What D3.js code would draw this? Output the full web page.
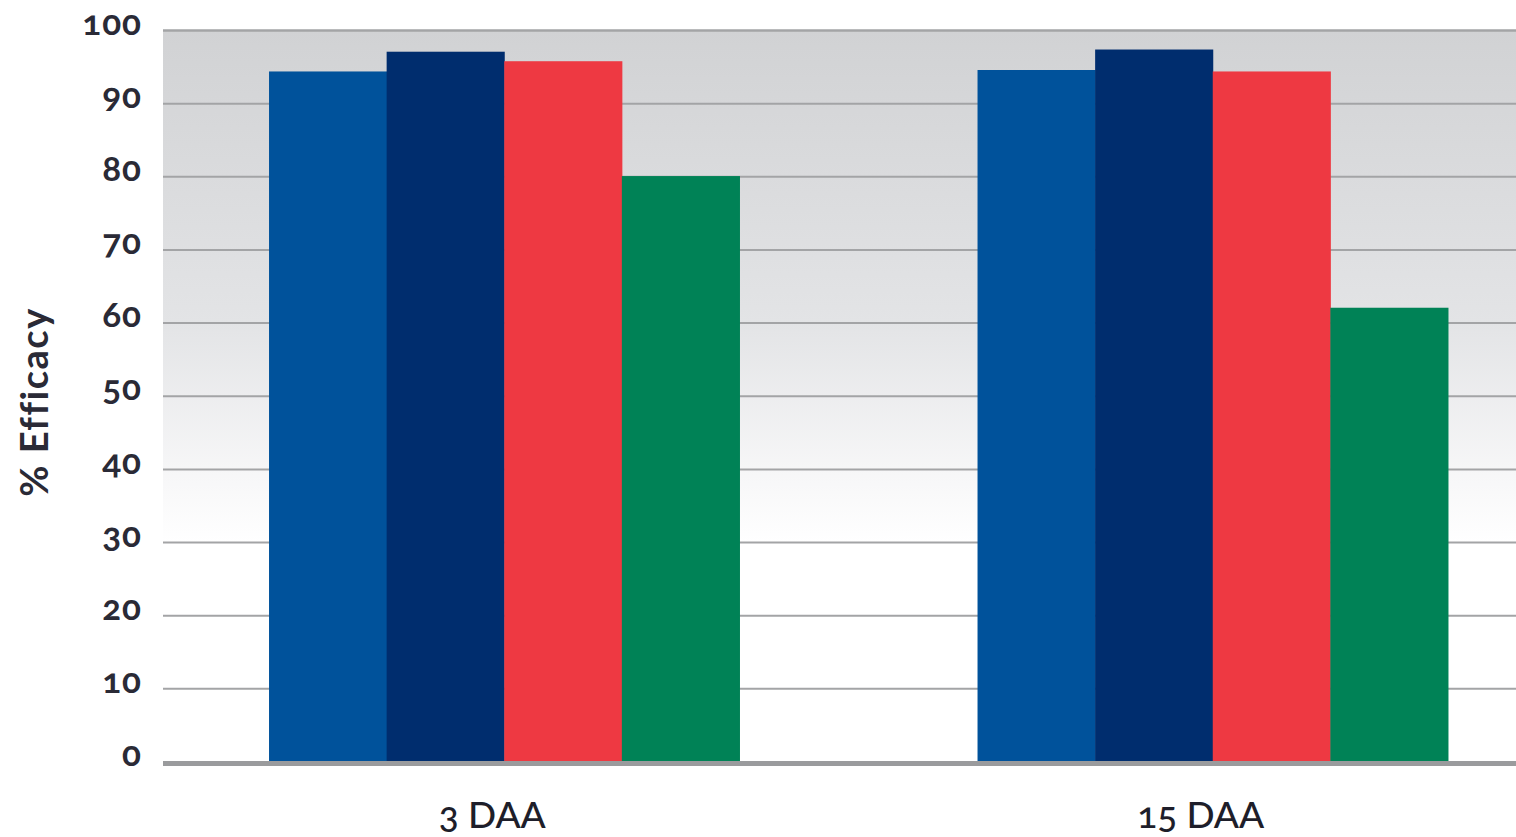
<!DOCTYPE html>
<html><head><meta charset="utf-8">
<script src="https://cdn.jsdelivr.net/npm/d3@7"></script>
<style>
html,body{margin:0;padding:0;background:#fff;}
text{font-family:Lato,"Noto Sans",sans-serif;font-variant-numeric:oldstyle-nums;font-feature-settings:"onum" 1;}
</style></head><body>
<svg id="c" width="1516" height="837"></svg>
<script>
const categories = ["3 DAA", "15 DAA"];
const seriesNames = ["S1", "S2", "S3", "S4"];
const series1 = [94.4, 94.6];
const series2 = [97.1, 97.4];
const series3 = [95.8, 94.4];
const series4 = [80.1, 62.1];
const yTicks = [0,10,20,30,40,50,60,70,80,90,100];
const colors = ["#00529b", "#002d6e", "#ee3942", "#008256"];

const svg = d3.select("#c");
const plotL = 163, plotR = 1516, yTop = 30.5, yBot = 762;
const y = d3.scaleLinear().domain([0,100]).range([yBot, yTop]);
const x0 = d3.scaleBand().domain(categories).range([150, 1567]).paddingInner(0.336).paddingOuter(0.168);
const x1 = d3.scaleBand().domain(seriesNames).range([0, x0.bandwidth()]);

const defs = svg.append("defs");
const g = defs.append("linearGradient").attr("id","bg").attr("x1",0).attr("x2",0).attr("y1",0).attr("y2",1);
g.append("stop").attr("offset","0%").attr("stop-color","#d1d2d4");
g.append("stop").attr("offset","40%").attr("stop-color","#e3e4e6");
g.append("stop").attr("offset","62%").attr("stop-color","#f8f8f9");
g.append("stop").attr("offset","70%").attr("stop-color","#ffffff");
svg.append("rect").attr("x",plotL).attr("y",y(100)).attr("width",plotR-plotL).attr("height",y(0)-y(100)).attr("fill","url(#bg)");

// gridlines
svg.append("g").selectAll("line").data(yTicks.filter(d=>d>0)).join("line")
  .attr("x1",plotL).attr("x2",plotR).attr("y1",d=>y(d)).attr("y2",d=>y(d))
  .attr("stroke","#a3a4a6").attr("stroke-width",d=>d===100?2.5:2);

// bars
const data = [series1, series2, series3, series4];
const gg = svg.append("g").selectAll("g").data(categories).join("g")
  .attr("transform", d=>`translate(${x0(d)},0)`);
gg.selectAll("rect").data((c,i)=>seriesNames.map((s,j)=>({s, v:data[j][i], c:colors[j]}))).join("rect")
  .attr("x", d=>x1(d.s)).attr("width", x1.bandwidth()+0.5)
  .attr("y", d=>y(d.v)).attr("height", d=>y(0)-y(d.v))
  .attr("fill", d=>d.c);

// baseline
svg.append("line").attr("x1",plotL).attr("x2",plotR).attr("y1",y(0)+1.5).attr("y2",y(0)+1.5)
  .attr("stroke","#9a9b9d").attr("stroke-width",5);

// y labels
svg.append("g").selectAll("text").data(yTicks).join("text")
  .attr("x",142).attr("y",d=>y(d)).attr("dy","0.12em")
  .attr("text-anchor","end").attr("font-size",35).attr("font-weight",700)
  .attr("letter-spacing",1)
  .attr("fill","#2a2a36").text(d=>d);

// x labels
svg.append("g").selectAll("text").data(categories).join("text")
  .attr("x",d=>x0(d)+x0.bandwidth()/2-12).attr("y",828)
  .attr("text-anchor","middle").attr("font-size",37).attr("font-weight",500)
  .attr("fill","#1e1e2a").text(d=>d);

// y title
svg.append("text").attr("transform","translate(48,402) rotate(-90)")
  .attr("text-anchor","middle").attr("font-size",38).attr("font-weight",700)
  .attr("letter-spacing",1.5)
  .attr("fill","#2a2a36").text("% Efficacy");
</script>
</body></html>
